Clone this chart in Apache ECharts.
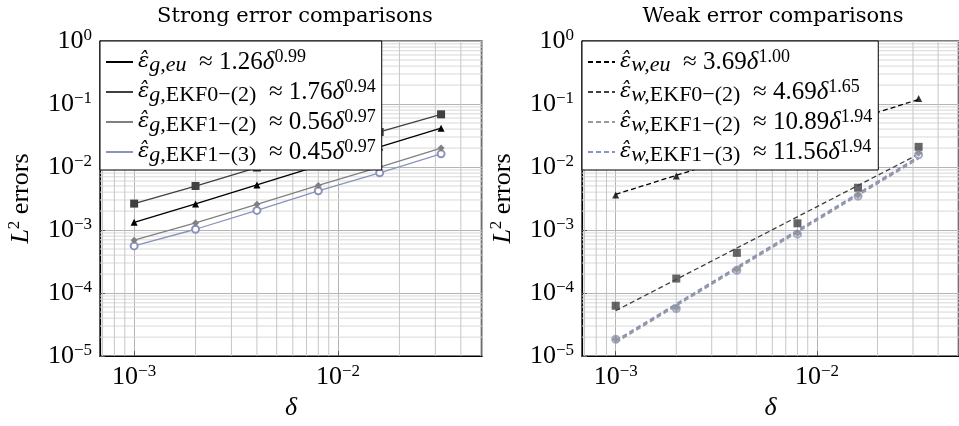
<!DOCTYPE html>
<html lang="en">
<head>
    <meta charset="UTF-8">
    <script src="https://cdn.jsdelivr.net/npm/echarts@6/dist/echarts.min.js"></script>
    <title>Strong and weak error comparisons</title>
</head>
<body>
    <style>
        html, body, #main {
            margin: 0;
            width: 959px;
            height: 426px;
            background: #fff;
        }
    </style>
    <div id="main"></div>
    <script>
        // step sizes
        var deltas = [0.001, 0.002, 0.004, 0.008, 0.016, 0.032];

        // strong errors (left panel)
        var strongEu    = [1.33e-3, 2.6e-3, 5.2e-3, 1.04e-2, 2.08e-2, 4.13e-2];
        var strongEkf0  = [2.63e-3, 5.0e-3, 9.8e-3, 1.88e-2, 3.6e-2, 6.86e-2];
        var strongEkf12 = [6.9e-4, 1.3e-3, 2.56e-3, 5.1e-3, 1.0e-2, 2.0e-2];
        var strongEkf13 = [5.6e-4, 1.03e-3, 2.05e-3, 4.2e-3, 8.1e-3, 1.62e-2];

        // weak errors (right panel), measured points
        var weakEu    = [3.6e-3, 7.2e-3, 1.48e-2, 2.95e-2, 5.9e-2, 0.1225];
        var weakEkf0  = [6.3e-5, 1.7e-4, 4.35e-4, 1.28e-3, 4.7e-3, 2.09e-2];
        var weakEkf12 = [1.85e-5, 5.8e-5, 2.35e-4, 8.8e-4, 3.55e-3, 1.65e-2];
        var weakEkf13 = [1.85e-5, 5.7e-5, 2.3e-4, 8.6e-4, 3.45e-3, 1.57e-2];

        // fitted power laws, value at first and last step
        var fitDeltas    = [0.001, 0.032];
        var weakEuFit    = [3.69e-3, 0.118];
        var weakEkf0Fit  = [5.26e-5, 1.6e-2];
        var weakEkf12Fit = [1.65e-5, 1.37e-2];
        var weakEkf13Fit = [1.75e-5, 1.455e-2];

        // axis limits
        var xLim = [6.8e-4, 0.0508];
        var yLim = [1e-5, 1];

        // log grid lines between the decades
        var gridMult = [2, 3, 4, 5, 6, 7, 8, 9];
        var gridDecX = [1e-4, 1e-3, 1e-2];
        var gridDecY = [1e-5, 1e-4, 1e-3, 1e-2, 1e-1];

        var legendText = {
            sEu:   '{h|ε̂}{si|g,eu}{r|  ≈ 1.26}{m|δ}{sp|0.99}',
            sEkf0: '{h|ε̂}{si|g,}{sr|EKF0−(2)}{r|  ≈ 1.76}{m|δ}{sp|0.94}',
            sEkf12:'{h|ε̂}{si|g,}{sr|EKF1−(2)}{r|  ≈ 0.56}{m|δ}{sp|0.97}',
            sEkf13:'{h|ε̂}{si|g,}{sr|EKF1−(3)}{r|  ≈ 0.45}{m|δ}{sp|0.97}',
            wEu:   '{h|ε̂}{si|w,eu}{r|  ≈ 3.69}{m|δ}{sp|1.00}',
            wEkf0: '{h|ε̂}{si|w,}{sr|EKF0−(2)}{r|  ≈ 4.69}{m|δ}{sp|1.65}',
            wEkf12:'{h|ε̂}{si|w,}{sr|EKF1−(2)}{r|  ≈ 10.89}{m|δ}{sp|1.94}',
            wEkf13:'{h|ε̂}{si|w,}{sr|EKF1−(3)}{r|  ≈ 11.56}{m|δ}{sp|1.94}'
        };

        var serif = 'Liberation Serif';
        var black = '#000', dark = '#404040', gray = '#808080', blue = '#8a93ba';

        function pairs(xs, ys) {
            return xs.map(function (x, i) { return [x, ys[i]]; });
        }

        // minor grid as broken polyline segments
        function minorVertical() {
            var d = [];
            gridDecX.forEach(function (dec) {
                gridMult.forEach(function (m) {
                    var x = m * dec;
                    if (x < xLim[0] || x > xLim[1]) return;
                    d.push([x, yLim[0]], [x, yLim[1]], '-');
                });
            });
            return d;
        }
        function minorHorizontal() {
            var d = [];
            gridDecY.forEach(function (dec) {
                gridMult.forEach(function (m) {
                    d.push([xLim[0], m * dec], [xLim[1], m * dec], '-');
                });
            });
            return d;
        }

        function powLabel(v) {
            var e = Math.log10(v);
            var r = Math.round(e);
            if (Math.abs(e - r) > 1e-6) return '';
            return '{b|10}{e|' + (r < 0 ? '−' + (-r) : r) + '}';
        }

        var tickRich = {
            b: {fontFamily: serif, fontSize: 26, lineHeight: 28, color: black},
            e: {fontFamily: serif, fontSize: 17, lineHeight: 12, verticalAlign: 'top', color: black}
        };

        var legendRich = {
            h:  {fontFamily: 'DejaVu Serif', fontStyle: 'italic', fontSize: 21, lineHeight: 28, color: black},
            m:  {fontFamily: serif, fontStyle: 'italic', fontSize: 25, lineHeight: 28, color: black},
            r:  {fontFamily: serif, fontSize: 25, lineHeight: 28, color: black},
            si: {fontFamily: serif, fontStyle: 'italic', fontSize: 22, lineHeight: 14, verticalAlign: 'bottom', color: black},
            sr: {fontFamily: serif, fontSize: 22, lineHeight: 14, verticalAlign: 'bottom', color: black},
            sp: {fontFamily: serif, fontSize: 18, lineHeight: 10, verticalAlign: 'top', color: black}
        };

        function xAxisFor(idx) {
            return {
                type: 'log', gridIndex: idx, min: xLim[0], max: xLim[1],
                name: 'δ', nameLocation: 'middle', nameGap: 38,
                nameTextStyle: {fontFamily: serif, fontStyle: 'italic', fontSize: 26, color: black},
                axisLine: {lineStyle: {color: black, width: 1.2}},
                axisTick: {inside: true, length: 5, lineStyle: {color: '#555'}},
                axisLabel: {formatter: powLabel, rich: tickRich, margin: 7, showMinLabel: false, showMaxLabel: false},
                splitLine: {show: true, lineStyle: {color: '#b4b4b4', width: 1}}
            };
        }

        function yAxisFor(idx) {
            return {
                type: 'log', gridIndex: idx, min: yLim[0], max: yLim[1], splitNumber: 5,
                name: '{i|L}{s|2}{r| errors}', nameLocation: 'middle', nameGap: 64, nameRotate: 90,
                nameTextStyle: {rich: {
                    i: {fontFamily: serif, fontStyle: 'italic', fontSize: 26, lineHeight: 30, color: black},
                    s: {fontFamily: serif, fontSize: 17, lineHeight: 12, verticalAlign: 'top', color: black},
                    r: {fontFamily: serif, fontSize: 26, lineHeight: 30, color: black}
                }},
                axisLine: {lineStyle: {color: black, width: 1.2}},
                axisTick: {inside: true, length: 5, lineStyle: {color: '#555'}},
                axisLabel: {formatter: powLabel, rich: tickRich, margin: 8},
                splitLine: {show: true, lineStyle: {color: '#b4b4b4', width: 1}}
            };
        }

        function gridSeries(idx, name, data, color) {
            return {
                name: name + idx, type: 'line', xAxisIndex: idx, yAxisIndex: idx,
                data: data, silent: true, z: 1, symbol: 'none', showSymbol: false,
                connectNulls: false,
                lineStyle: {color: color, width: 1}
            };
        }

        function dataLine(name, ys, color, symbol, size) {
            return {
                name: name, type: 'line', xAxisIndex: 0, yAxisIndex: 0, z: 3,
                data: pairs(deltas, ys), symbol: symbol, symbolSize: size, showSymbol: true,
                lineStyle: {color: color, width: 1.3},
                itemStyle: {color: color, borderColor: color, borderWidth: symbol === 'emptyCircle' ? 1.2 : 0}
            };
        }

        function fitLine(name, ys, color, width) {
            return {
                name: name, type: 'line', xAxisIndex: 1, yAxisIndex: 1, z: 3,
                data: pairs(fitDeltas, ys), symbol: 'none', showSymbol: false,
                lineStyle: {color: color, width: width, type: [5, 3]},
                itemStyle: {color: color}
            };
        }

        function points(name, ys, color, symbol, size) {
            return {
                name: name, type: 'scatter', xAxisIndex: 1, yAxisIndex: 1, z: 4,
                data: pairs(deltas, ys), symbol: symbol, symbolSize: size,
                itemStyle: {color: color, borderColor: color, borderWidth: symbol === 'emptyCircle' ? 1.2 : 0}
            };
        }

        function legendFor(left, names) {
            return {
                data: names, orient: 'vertical', left: left, top: 41,
                padding: [7, 6, 4, 5], itemGap: 2, itemWidth: 27, itemHeight: 14,
                backgroundColor: '#fff', borderColor: '#000', borderWidth: 1, borderRadius: 0,
                itemStyle: {opacity: 0}, selectedMode: false, z: 10,
                formatter: function (n) { return legendText[n]; },
                textStyle: {rich: legendRich, padding: [0, 0, 0, 0]}
            };
        }

        var chart = echarts.init(document.getElementById('main'));
        chart.setOption({
            animation: false,
            backgroundColor: '#fff',
            title: [
                {text: 'Strong error comparisons', left: 290, top: 1, textAlign: 'center',
                 textStyle: {fontFamily: 'DejaVu Serif', fontWeight: 'normal', fontSize: 21, color: black}},
                {text: 'Weak error comparisons', left: 768, top: 1, textAlign: 'center',
                 textStyle: {fontFamily: 'DejaVu Serif', fontWeight: 'normal', fontSize: 21, color: black}}
            ],
            grid: [
                {left: 100, top: 41, width: 382, height: 319, show: true, borderColor: '#000', borderWidth: 1.2, backgroundColor: 'transparent'},
                {left: 582, top: 41, width: 382, height: 319, show: true, borderColor: '#000', borderWidth: 1.2, backgroundColor: 'transparent'}
            ],
            xAxis: [xAxisFor(0), xAxisFor(1)],
            yAxis: [yAxisFor(0), yAxisFor(1)],
            legend: [
                legendFor(100, ['sEu', 'sEkf0', 'sEkf12', 'sEkf13']),
                legendFor(582, ['wEu', 'wEkf0', 'wEkf12', 'wEkf13'])
            ],
            series: [
                gridSeries(0, 'minorH', minorHorizontal(), '#d8d8d8'),
                gridSeries(1, 'minorH', minorHorizontal(), '#d8d8d8'),
                gridSeries(0, 'minorV', minorVertical(), '#c6c6c6'),
                gridSeries(1, 'minorV', minorVertical(), '#c6c6c6'),
                dataLine('sEkf13', strongEkf13, blue, 'emptyCircle', 7),
                dataLine('sEkf12', strongEkf12, gray, 'diamond', 7),
                dataLine('sEu', strongEu, black, 'triangle', 7),
                dataLine('sEkf0', strongEkf0, dark, 'rect', 8),
                fitLine('wEu', weakEuFit, black, 1.3),
                fitLine('wEkf0', weakEkf0Fit, dark, 1.3),
                fitLine('wEkf12', weakEkf12Fit, '#9a9a9a', 2),
                fitLine('wEkf13', weakEkf13Fit, blue, 2),
                points('wEuPts', weakEu, black, 'triangle', 7),
                points('wEkf0Pts', weakEkf0, dark, 'rect', 8),
                points('wEkf13Pts', weakEkf13, blue, 'emptyCircle', 7),
                points('wEkf12Pts', weakEkf12, gray, 'diamond', 7)
            ]
        });
    </script>
</body>
</html>
